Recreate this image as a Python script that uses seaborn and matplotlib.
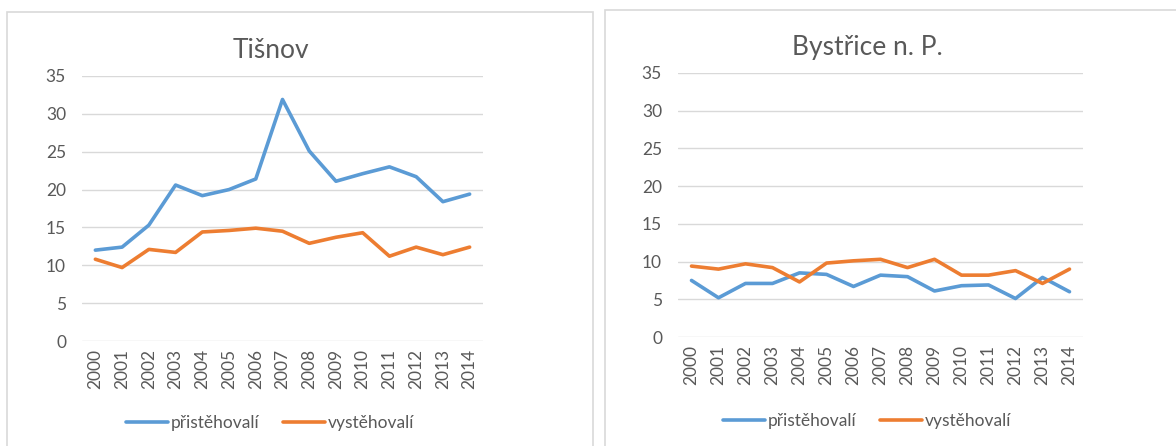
import pandas as pd
import matplotlib.pyplot as plt
import matplotlib.patches as patches
import seaborn as sns

# Values
years = list(range(2000, 2015))
series_names = ['přistěhovalí', 'vystěhovalí']

tisnov_in = [12.0, 12.4, 15.3, 20.6, 19.2, 20.0, 21.4, 31.9, 25.1, 21.1, 22.1, 23.0, 21.7, 18.4, 19.4]
tisnov_out = [10.8, 9.7, 12.1, 11.7, 14.4, 14.6, 14.9, 14.5, 12.9, 13.7, 14.3, 11.2, 12.4, 11.4, 12.4]

bystrice_in = [7.5, 5.2, 7.1, 7.1, 8.5, 8.3, 6.7, 8.2, 8.0, 6.1, 6.8, 6.9, 5.1, 7.9, 6.0]
bystrice_out = [9.4, 9.0, 9.7, 9.2, 7.3, 9.8, 10.1, 10.3, 9.2, 10.3, 8.2, 8.2, 8.8, 7.1, 9.0]

titles = ['Tišnov', 'Bystřice n. P.']
y_ticks = [0, 5, 10, 15, 20, 25, 30, 35]

sns.set_style('white')
plt.rcParams['font.family'] = ['Lato', 'DejaVu Sans']

text_col = '#595959'
grid_col = '#D9D9D9'
palette = {'přistěhovalí': '#5B9BD5', 'vystěhovalí': '#ED7D31'}


def make_df(inc, out):
    return pd.DataFrame({
        'rok': years * 2,
        'hodnota': inc + out,
        'řada': [series_names[0]] * len(years) + [series_names[1]] * len(years),
    })


fig = plt.figure(figsize=(11.76, 4.46), dpi=100)

# chart frames like in the spreadsheet
fig.patches.append(patches.Rectangle((7 / 1176, -0.01), 586 / 1176, (446 - 12) / 446 + 0.01,
                                     transform=fig.transFigure, fill=False,
                                     edgecolor=grid_col, linewidth=1.2))
fig.patches.append(patches.Rectangle((605 / 1176, -0.01), 0.6, (446 - 10) / 446 + 0.01,
                                     transform=fig.transFigure, fill=False,
                                     edgecolor=grid_col, linewidth=1.2))

ax1 = fig.add_axes([82 / 1176, 105 / 446, 401 / 1176, 265 / 446])
ax2 = fig.add_axes([678 / 1176, 109 / 446, 405 / 1176, 264 / 446])

datasets = [make_df(tisnov_in, tisnov_out), make_df(bystrice_in, bystrice_out)]
title_pos = [(271, 50), (867, 47)]
legend_pos = [(270, 423), (867, 421)]

for ax, df, title, tp, lp in zip([ax1, ax2], datasets, titles, title_pos, legend_pos):
    sns.lineplot(data=df, x='rok', y='hodnota', hue='řada', palette=palette,
                 linewidth=2.6, ax=ax)
    ax.set_xlim(1999.5, 2014.5)
    ax.set_ylim(0, 35)
    ax.set_yticks(y_ticks)
    ax.set_xticks(years)
    ax.set_xticklabels([str(y) for y in years], rotation=90)
    ax.tick_params(axis='both', colors=text_col, labelsize=12.5, length=0)
    ax.tick_params(axis='y', pad=11.5)
    ax.tick_params(axis='x', pad=6)
    ax.yaxis.grid(True, color=grid_col, linewidth=1)
    for s in ax.spines.values():
        s.set_visible(False)
    ax.set_xlabel('')
    ax.set_ylabel('')
    fig.text(tp[0] / 1176, 1 - tp[1] / 446, title, ha='center', va='center',
             fontsize=19, color=text_col)
    handles, labels = ax.get_legend_handles_labels()
    ax.get_legend().remove()
    fig.legend(handles, labels, loc='center', ncol=2, frameon=False,
               bbox_to_anchor=(lp[0] / 1176, 1 - lp[1] / 446),
               fontsize=12.5, labelcolor=text_col, handlelength=2.4,
               handletextpad=0.15, columnspacing=1.4)

fig.savefig('out.png', dpi=100)
